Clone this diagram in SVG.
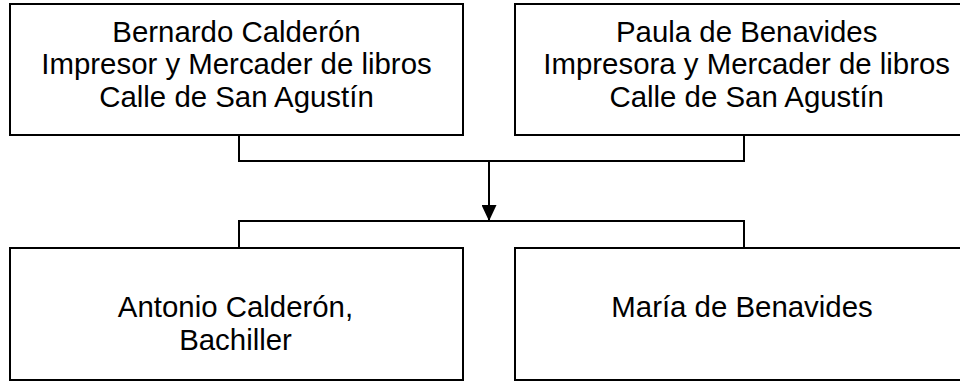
<svg xmlns="http://www.w3.org/2000/svg" width="960" height="381" viewBox="0 0 960 381">
<style>
.box{fill:#fff;stroke:#000;stroke-width:2}
.t{font-family:"Liberation Sans",Arial,sans-serif;font-size:29.4px;fill:#000;text-anchor:middle}
.c{fill:none;stroke:#000;stroke-width:2}
</style>
<defs>
<marker id="arr" viewBox="0 0 16 15" refX="16" refY="7.5" markerWidth="16" markerHeight="15" markerUnits="userSpaceOnUse" orient="auto">
<path d="M0,0 L16,7.5 L0,15 Z" fill="#000"/>
</marker>
</defs>
<rect width="960" height="381" fill="#fff"/>
<g id="connectors">
<path class="c" d="M239,135 V161 H744 V135"/>
<path class="c" d="M489,161 V221" marker-end="url(#arr)"/>
<path class="c" d="M239,248 V221 H744 V248"/>
</g>
<g id="bernardo">
<rect class="box" x="10" y="4" width="453" height="131"/>
<text class="t" x="236.5" y="41.7">Bernardo Calderón</text>
<text class="t" x="236.5" y="74.2">Impresor y Mercader de libros</text>
<text class="t" x="236.5" y="106.7">Calle de San Agustín</text>
</g>
<g id="paula">
<rect class="box" x="515" y="4" width="464" height="131"/>
<text class="t" x="746.7" y="41.7">Paula de Benavides</text>
<text class="t" x="746.7" y="74.2">Impresora y Mercader de libros</text>
<text class="t" x="746.7" y="106.7">Calle de San Agustín</text>
</g>
<g id="antonio">
<rect class="box" x="10" y="248" width="453" height="132"/>
<text class="t" x="235.5" y="316.7">Antonio Calderón,</text>
<text class="t" x="235.5" y="349.7">Bachiller</text>
</g>
<g id="maria">
<rect class="box" x="515" y="248" width="464" height="132"/>
<text class="t" x="742" y="316.7">María de Benavides</text>
</g>
</svg>
